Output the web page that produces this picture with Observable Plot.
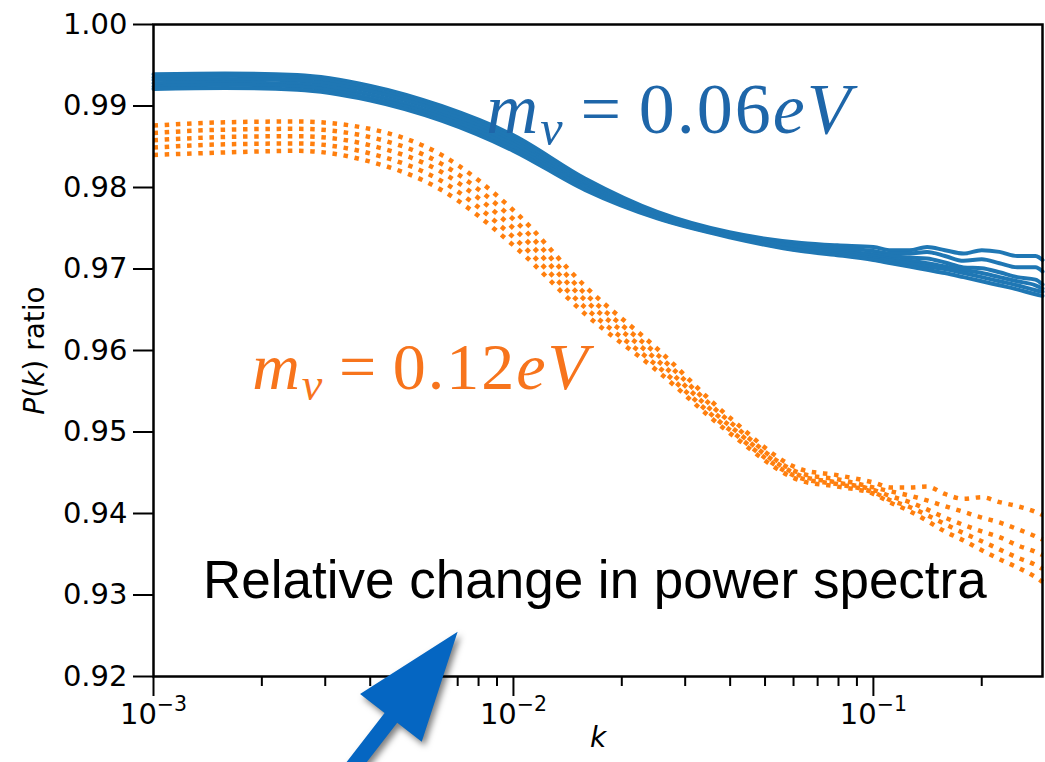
<!DOCTYPE html>
<html><head><meta charset="utf-8">
<script src="https://cdn.jsdelivr.net/npm/d3@7"></script>
<script src="https://cdn.jsdelivr.net/npm/@observablehq/plot@0.6"></script>
<style>html,body{margin:0;padding:0;background:#fff;overflow:hidden}</style>
</head><body><div id="chart"></div>
<script>
// k grid (h/Mpc)
const kValues = [0.001, 0.00158, 0.00251, 0.00398, 0.00631, 0.01, 0.0158, 0.0251, 0.0398, 0.0631, 0.0794, 0.1, 0.112, 0.126, 0.141, 0.158, 0.178, 0.200, 0.224, 0.251, 0.282, 0.295];

// m_nu = 0.06 eV curves (solid blue)
const blue1 = [0.9939, 0.9940, 0.9938, 0.9925, 0.9900, 0.9864, 0.9811, 0.9770, 0.9745, 0.9732, 0.9729, 0.9727, 0.9723, 0.9723, 0.9727, 0.9723, 0.9719, 0.9723, 0.9721, 0.9716, 0.9716, 0.9711];
const blue2 = [0.9935, 0.9937, 0.9935, 0.9921, 0.9897, 0.9860, 0.9808, 0.9768, 0.9744, 0.9728, 0.9726, 0.9722, 0.9719, 0.9719, 0.9721, 0.9716, 0.9710, 0.9712, 0.9707, 0.9702, 0.9702, 0.9697];
const blue3 = [0.9932, 0.9933, 0.9931, 0.9918, 0.9893, 0.9856, 0.9805, 0.9766, 0.9743, 0.9727, 0.9723, 0.9718, 0.9716, 0.9714, 0.9713, 0.9708, 0.9702, 0.9701, 0.9696, 0.9690, 0.9687, 0.9681];
const blue4 = [0.9928, 0.9929, 0.9927, 0.9914, 0.9889, 0.9853, 0.9802, 0.9765, 0.9741, 0.9726, 0.9721, 0.9716, 0.9712, 0.9710, 0.9707, 0.9703, 0.9699, 0.9695, 0.9690, 0.9685, 0.9680, 0.9676];
const blue5 = [0.9924, 0.9926, 0.9924, 0.9910, 0.9886, 0.9849, 0.9800, 0.9763, 0.9740, 0.9723, 0.9719, 0.9713, 0.9710, 0.9707, 0.9703, 0.9700, 0.9695, 0.9690, 0.9685, 0.9680, 0.9674, 0.9672];
const blue6 = [0.9921, 0.9922, 0.9920, 0.9907, 0.9882, 0.9845, 0.9797, 0.9762, 0.9739, 0.9722, 0.9717, 0.9711, 0.9707, 0.9703, 0.9699, 0.9695, 0.9690, 0.9685, 0.9680, 0.9675, 0.9669, 0.9667];

// m_nu = 0.12 eV curves (dotted orange)
const orange1 = [0.9876, 0.9880, 0.9881, 0.9872, 0.9840, 0.9772, 0.9679, 0.9602, 0.9518, 0.9454, 0.9447, 0.9438, 0.9432, 0.9432, 0.9433, 0.9424, 0.9418, 0.9420, 0.9414, 0.9409, 0.9402, 0.9398];
const orange2 = [0.9867, 0.9871, 0.9872, 0.9862, 0.9829, 0.9761, 0.9670, 0.9595, 0.9513, 0.9449, 0.9442, 0.9432, 0.9427, 0.9422, 0.9416, 0.9409, 0.9402, 0.9395, 0.9389, 0.9381, 0.9372, 0.9368];
const orange3 = [0.9858, 0.9862, 0.9863, 0.9852, 0.9819, 0.9750, 0.9662, 0.9588, 0.9508, 0.9446, 0.9438, 0.9429, 0.9421, 0.9414, 0.9405, 0.9395, 0.9386, 0.9378, 0.9371, 0.9361, 0.9353, 0.9349];
const orange4 = [0.9849, 0.9853, 0.9854, 0.9842, 0.9808, 0.9739, 0.9653, 0.9581, 0.9503, 0.9443, 0.9436, 0.9426, 0.9416, 0.9408, 0.9398, 0.9387, 0.9376, 0.9366, 0.9356, 0.9346, 0.9337, 0.9332];
const orange5 = [0.9840, 0.9843, 0.9845, 0.9832, 0.9797, 0.9729, 0.9645, 0.9575, 0.9499, 0.9440, 0.9433, 0.9424, 0.9413, 0.9403, 0.9391, 0.9378, 0.9367, 0.9355, 0.9344, 0.9334, 0.9322, 0.9316];

// axes
const yTicks = [0.92, 0.93, 0.94, 0.95, 0.96, 0.97, 0.98, 0.99, 1.00];
const xMajorTicks = [0.001, 0.01, 0.1];
const xTickExponents = ["\u22123", "\u22122", "\u22121"];
const xMinorTicks = [0.002, 0.003, 0.004, 0.005, 0.006, 0.007, 0.008, 0.009, 0.02, 0.03, 0.04, 0.05, 0.06, 0.07, 0.08, 0.09, 0.2];
const xDomain = [0.001, 0.295];
const yDomain = [0.92, 1.00];

// annotations (data coordinates)
const labelBlue = {k: 0.0084, r: 0.98948, text: "0.06"};
const labelOrange = {k: 0.00188, r: 0.95784, text: "0.12"};
const noteText = {k: 0.001373, r: 0.93177, text: "Relative change in power spectra"};
const arrowData = [{kTail: 0.003095, rTail: 0.90515, kTip: 0.00702, rTip: 0.92543}];

function rows(series, names) {
  const out = [];
  series.forEach((vals, i) => vals.forEach((v, j) => out.push({k: kValues[j], r: v, id: names[i]})));
  return out;
}
const blueRows = rows([blue1, blue2, blue3, blue4, blue5, blue6], ["b1","b2","b3","b4","b5","b6"]);
const orangeRows = rows([orange1, orange2, orange3, orange4, orange5], ["o1","o2","o3","o4","o5"]);

function arrowMark(index, scales) {
  const a = arrowData[0];
  const x1 = scales.x(a.kTail), y1 = scales.y(a.rTail), x2 = scales.x(a.kTip), y2 = scales.y(a.rTip);
  const dx = x2 - x1, dy = y2 - y1, len = Math.hypot(dx, dy);
  const ux = dx / len, uy = dy / len, nx = -uy, ny = ux;
  const L = 109, W = 39, S = 8;
  const bx = x2 - L * ux, by = y2 - L * uy;
  const pts = [[x2, y2], [bx + W * nx, by + W * ny], [bx + S * nx, by + S * ny], [x1 + S * nx, y1 + S * ny],
               [x1 - S * nx, y1 - S * ny], [bx - S * nx, by - S * ny], [bx - W * nx, by - W * ny]];
  const p = document.createElementNS("http://www.w3.org/2000/svg", "path");
  p.setAttribute("d", "M" + pts.map(q => q.join(",")).join("L") + "Z");
  p.setAttribute("fill", "#0566c2");
  p.setAttribute("style", "filter: drop-shadow(3px 4px 3px rgba(0,0,0,0.5))");
  return p;
}

const chart = Plot.plot({
  width: 1045,
  height: 762,
  marginLeft: 153,
  marginRight: 3,
  marginTop: 24,
  marginBottom: 86,
  style: {fontFamily: "'DejaVu Sans', sans-serif", fontSize: "29px", color: "black", background: "white"},
  x: {type: "log", domain: xDomain},
  y: {domain: yDomain},
  marks: [
    Plot.line(blueRows, {x: "k", y: "r", z: "id", stroke: "#1f77b4", strokeWidth: 4, curve: "monotone-x"}),
    Plot.line(orangeRows, {x: "k", y: "r", z: "id", stroke: "#ff7f0e", strokeWidth: 4.5, strokeDasharray: "4.5 6.7", strokeLinecap: "butt", curve: "monotone-x"}),
    Plot.axisY({ticks: yTicks, tickSize: 20, tickPadding: 6, strokeWidth: 2, tickFormat: d3.format(".2f"), label: null}),
    Plot.axisX({ticks: xMajorTicks, tickSize: 20, tickPadding: 7, strokeWidth: 2, tickFormat: d => "10|" + xTickExponents[xMajorTicks.indexOf(d)], label: null}),
    Plot.axisX({ticks: xMinorTicks, tickSize: 10, strokeWidth: 2, tickFormat: () => "", label: null}),
    Plot.frame({stroke: "black", strokeWidth: 2.5}),
    Plot.text(["k"], {frameAnchor: "bottom", dy: 70, fontSize: 28, fontStyle: "italic", text: d => d}),
    Plot.text(["P(k) ratio"], {frameAnchor: "left", dx: -118, rotate: -90, textAnchor: "middle", fontSize: 28, text: d => d}),
    Plot.text([labelBlue], {x: "k", y: "r", text: d => "MBLUE", textAnchor: "start", fill: "#1e66a9", fontSize: 72, fontFamily: "'Liberation Serif', serif"}),
    Plot.text([labelOrange], {x: "k", y: "r", text: d => "MORANGE", textAnchor: "start", fill: "#f7741c", fontSize: 66, fontFamily: "'Liberation Serif', serif"}),
    Plot.text([noteText], {x: "k", y: "r", text: "text", textAnchor: "start", fill: "black", fontSize: 53, fontFamily: "'Liberation Sans', Arial, sans-serif"}),
    arrowMark
  ]
});

const svg = d3.select(chart);
function mathLabel(el, value, size) {
  const s = d3.select(el);
  s.text(null).attr("letter-spacing", 2);
  s.append("tspan").attr("font-style", "italic").text("m");
  s.append("tspan").attr("font-style", "italic").attr("font-size", size * 0.7).attr("dy", size * 0.16).text("\u03BD");
  s.append("tspan").attr("dy", -size * 0.16).attr("dx", size * 0.22).text("=");
  s.append("tspan").attr("dx", size * 0.22).text(value);
  s.append("tspan").attr("font-style", "italic").text("eV");
}
svg.selectAll("text").each(function() {
  const t = this.textContent;
  const s = d3.select(this);
  if (t === "MBLUE") mathLabel(this, labelBlue.text, 72);
  else if (t === "MORANGE") mathLabel(this, labelOrange.text, 66);
  else if (t === "P(k) ratio") {
    s.text(null);
    s.append("tspan").attr("font-style", "italic").text("P");
    s.append("tspan").text("(");
    s.append("tspan").attr("font-style", "italic").text("k");
    s.append("tspan").text(") ratio");
  } else if (t.startsWith("10|")) {
    const exp = t.split("|")[1];
    s.text(null);
    s.append("tspan").text("10");
    s.append("tspan").attr("font-size", 20.5).attr("dy", -13).text(exp);
  }
});
document.getElementById("chart").appendChild(chart);
</script>
</body></html>
